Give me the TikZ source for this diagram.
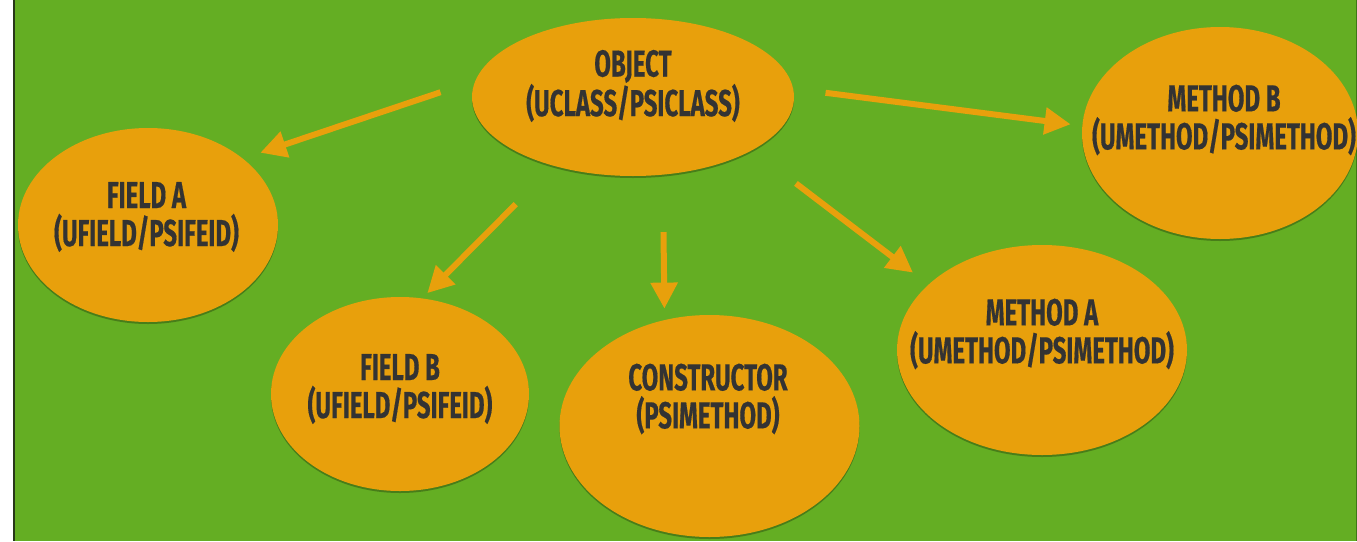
\documentclass[tikz,border=0pt]{standalone}
\usepackage{fontspec}
\usetikzlibrary{arrows.meta,shapes.geometric,shadows}
\newfontfamily\lblfont{Fira Sans}[FakeStretch=0.64,FakeBold=0.4]
\definecolor{bggreen}{RGB}{100,174,35}
\definecolor{bubble}{RGB}{232,160,12}
\definecolor{ink}{RGB}{51,51,51}
\definecolor{edgeL}{RGB}{40,56,25}
\definecolor{edgeR}{RGB}{62,120,22}
\begin{document}
\begin{tikzpicture}[x=1pt,y=-1pt,
  bubblenode/.style={ellipse,fill=bubble,draw=none,inner sep=0pt,outer sep=0pt,
    drop shadow={shadow xshift=0pt,shadow yshift=-2pt,opacity=0.28,fill=black}},
  caption/.style={align=center,text=ink,inner sep=0pt,
    font=\lblfont\bfseries\fontsize{37.5}{38}\selectfont},
  link/.style={draw=bubble,line width=6pt,-{Triangle[length=26pt,width=26pt]}}]
  % canvas
  \useasboundingbox (0,0) rectangle (1357,541);
  \fill[white] (0,0) rectangle (1357,541);
  \fill[bggreen] (14,0) rectangle (1357,541);
  \draw[edgeL,line width=1.5pt] (13.75,0) -- (13.75,541);
  \draw[edgeR,line width=1pt] (1356.5,0) -- (1356.5,541);

  % bubbles
  \node[bubblenode,minimum width=322pt,minimum height=158pt] (obj)  at (633,97)  {};
  \node[bubblenode,minimum width=260pt,minimum height=194pt] (fa)   at (148,225) {};
  \node[bubblenode,minimum width=258pt,minimum height=194pt] (fb)   at (400,394) {};
  \node[bubblenode,minimum width=300pt,minimum height=222pt] (ctor) at (709.5,426) {};
  \node[bubblenode,minimum width=290pt,minimum height=210pt] (ma)   at (1042,350) {};
  \node[bubblenode,minimum width=276pt,minimum height=212pt] (mb)   at (1220,133) {};

  % captions
  \node[caption] (objT)  at (633,86)    {OBJECT\\(UCLASS/PSICLASS)};
  \node[caption] (faT)   at (146.5,217) {FIELD A\\(UFIELD/PSIFEID)};
  \node[caption] (fbT)   at (400,389)   {FIELD B\\(UFIELD/PSIFEID)};
  \node[caption] (ctorT) at (708,399)   {CONSTRUCTOR\\(PSIMETHOD)};
  \node[caption] (maT)   at (1042,334)  {METHOD A\\(UMETHOD/PSIMETHOD)};
  \node[caption] (mbT)   at (1224,120)  {METHOD B\\(UMETHOD/PSIMETHOD)};

  % connectors
  \draw[link,shorten <=37pt,shorten >=18.5pt] (obj.174.4) -- (fa.35.6);
  \draw[link,shorten <=54pt,shorten >=7.5pt]  (obj.221.1) -- (fb.77.8);
  \draw[link,shorten <=57.4pt,shorten >=11.5pt] (obj.291.1) -- (ctor.113.8);
  \draw[link,shorten <=55pt,shorten >=19.7pt] (obj.336.6) -- (ma.150.2);
  \draw[link,shorten <=32.7pt,shorten >=11.8pt] (obj.3.6) -- (mb.177.3);
\end{tikzpicture}
\end{document}
